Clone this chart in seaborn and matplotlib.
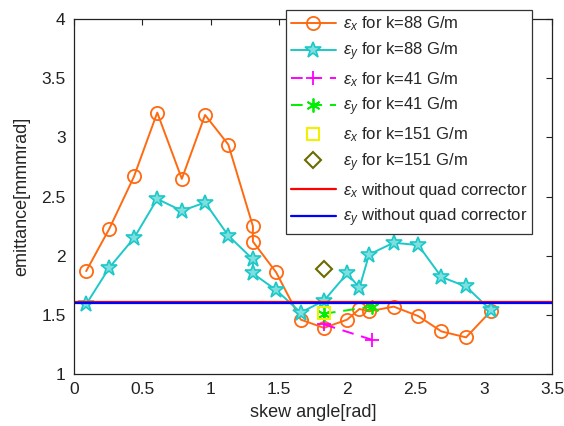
import seaborn as sns
import matplotlib.pyplot as plt

# skew angle [rad] for the k=88 G/m scan
skew_88 = [0.09, 0.26, 0.44, 0.61, 0.79, 0.96, 1.13, 1.31, 1.31, 1.48,
           1.66, 1.83, 2.00, 2.09, 2.16, 2.34, 2.52, 2.69, 2.87, 3.05]
ex_88 = [1.87, 2.23, 2.67, 3.21, 2.65, 3.19, 2.94, 2.25, 2.12, 1.86,
         1.46, 1.39, 1.46, 1.55, 1.53, 1.57, 1.49, 1.36, 1.31, 1.53]
ey_88 = [1.59, 1.90, 2.15, 2.48, 2.38, 2.45, 2.17, 1.97, 1.85, 1.71,
         1.52, 1.62, 1.85, 1.73, 2.01, 2.11, 2.09, 1.82, 1.74, 1.54]

skew_41 = [1.83, 2.18]
ex_41 = [1.42, 1.29]
ey_41 = [1.51, 1.57]

skew_151 = [1.83]
ex_151 = [1.52]
ey_151 = [1.89]

ex_noquad = 1.61
ey_noquad = 1.60


def makePlot(imageFile):
    sns.set_theme(style='white')
    plt.rcParams['font.family'] = ['Liberation Sans', 'DejaVu Sans']
    plt.rcParams['mathtext.fontset'] = 'custom'
    plt.rcParams['mathtext.rm'] = 'Liberation Sans'
    plt.rcParams['mathtext.it'] = 'Liberation Sans:italic'

    fig = plt.figure(figsize=(5.64, 4.26), dpi=100)
    ax = fig.add_axes([0.131, 0.122, 0.848, 0.833])

    common = dict(ax=ax, estimator=None, sort=False)
    sns.lineplot(x=skew_88, y=ex_88, color='#ff6a10', marker='o', markersize=9.5,
                 markerfacecolor='none', markeredgecolor='#ff6a10', markeredgewidth=1.3,
                 linewidth=1.4, label=r'$\epsilon_x$ for k=88 G/m', **common)
    sns.lineplot(x=skew_88, y=ey_88, color='#1cc8c8', marker='*', markersize=12,
                 markerfacecolor='#7fdede', markeredgecolor='#1cc8c8', markeredgewidth=1.2,
                 linewidth=1.4, label=r'$\epsilon_y$ for k=88 G/m', **common)
    sns.lineplot(x=skew_41, y=ex_41, color='#ff00ff', marker='+', markersize=10,
                 markeredgecolor='#ff00ff', markeredgewidth=1.3, linestyle=(0, (6, 4)),
                 linewidth=1.4, label=r'$\epsilon_x$ for k=41 G/m', **common)
    sns.lineplot(x=skew_41, y=ey_41, color='#00ee00', marker=(6, 2, 0), markersize=10,
                 markeredgecolor='#00ee00', markeredgewidth=1.3, linestyle=(0, (6, 4)),
                 linewidth=1.4, label=r'$\epsilon_y$ for k=41 G/m', **common)
    sns.lineplot(x=skew_151, y=ex_151, color='#ffff00', marker='s', markersize=8,
                 markerfacecolor='none', markeredgecolor='#f0f000', markeredgewidth=1.5,
                 linestyle='none', label=r'$\epsilon_x$ for k=151 G/m', **common)
    sns.lineplot(x=skew_151, y=ey_151, color='#6b6b00', marker='D', markersize=8,
                 markerfacecolor='none', markeredgecolor='#6b6b00', markeredgewidth=1.5,
                 linestyle='none', label=r'$\epsilon_y$ for k=151 G/m', **common)
    ax.axhline(ex_noquad, color='#ff0000', linewidth=1.6,
               label=r'$\epsilon_x$ without quad corrector')
    ax.axhline(ey_noquad, color='#0000ff', linewidth=1.6,
               label=r'$\epsilon_y$ without quad corrector')

    ax.set_xlim(0, 3.5)
    ax.set_ylim(1, 4)
    ax.set_xticks([0, 0.5, 1, 1.5, 2, 2.5, 3, 3.5])
    ax.set_xticklabels(['0', '0.5', '1', '1.5', '2', '2.5', '3', '3.5'])
    ax.set_yticks([1, 1.5, 2, 2.5, 3, 3.5, 4])
    ax.set_yticklabels(['1', '1.5', '2', '2.5', '3', '3.5', '4'])
    ax.tick_params(direction='in', length=4, width=0.8, top=True, right=True,
                   labelsize=12.5, colors='#222222', pad=6)
    for s in ax.spines.values():
        s.set_color('#222222')
        s.set_linewidth(0.9)

    ax.set_xlabel('skew angle[rad]', fontsize=13, labelpad=5)
    ax.set_ylabel('emittance[mmmrad]', fontsize=13, labelpad=8)

    leg = ax.legend(loc='upper left', bbox_to_anchor=(0.507, 0.977),
                    bbox_transform=fig.transFigure, fontsize=12, frameon=True,
                    fancybox=False, edgecolor='#333333', framealpha=1,
                    borderpad=0.3, labelspacing=0.42, handlelength=2.7,
                    handletextpad=0.4, borderaxespad=0)
    leg.get_frame().set_linewidth(0.9)

    fig.savefig(imageFile, dpi=100)
    print("saved!")


def main():
    makePlot('out.png')


if __name__ == "__main__":
    main()
